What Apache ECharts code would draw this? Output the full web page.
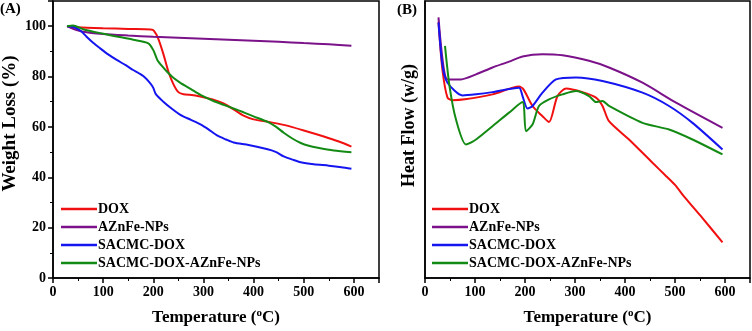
<!DOCTYPE html>
<html><head><meta charset="utf-8">
<script src="https://cdn.jsdelivr.net/npm/echarts@6/dist/echarts.min.js"></script>
<style>html,body{margin:0;padding:0;background:#fff}#c{width:752px;height:331px}</style>
</head><body><div id="c"></div>
<script>
// ---- data (TGA, panel A) ----
const seriesNames = ['DOX','AZnFe-NPs','SACMC-DOX','SACMC-DOX-AZnFe-NPs'];
const xTicks = [0,100,200,300,400,500,600];
const yTicksA = [0,20,40,60,80,100];

const tgaDoxT = [28,50,100,150,195,201,210,220,230,240,250,260,280,300,320,340,360,380,400,430,460,500,540,570,595];
const tgaDoxW = [100,99.6,99.2,98.9,98.7,98.2,95,89,82,77,73.8,73,72.6,71.8,70.8,69.3,67,64.5,63,62,60.8,58.6,56.2,54.2,52.2];
const tgaAznT = [28,40,60,100,150,200,250,300,350,400,450,500,550,595];
const tgaAznW = [100,99,97.8,96.9,96.3,95.8,95.4,95,94.6,94.2,93.8,93.3,92.8,92.2];
const tgaSacT = [28,40,55,67,80,94,110,127,145,160,180,194,200,205,220,237,254,275,294,310,328,345,360,390,428,445,460,478,494,520,550,575,595];
const tgaSacW = [100,99.8,98.2,95.8,93.4,91.2,88.8,86.6,84.5,82.6,80.2,77.3,75.5,73,70,67.2,64.8,62.8,61,59,56.5,55,53.8,52.8,51.1,50,48.3,47,46,45.2,44.6,44,43.4];
const tgaMixT = [28,40,60,100,130,160,190,200,208,218,227,240,254,275,294,320,340,360,380,400,428,445,460,478,494,510,528,560,595];
const tgaMixW = [100,100.3,98.8,97,95.8,94.6,93.2,90.5,86.6,84,82,79.5,77.5,75,72.7,70.3,68.8,67.3,65.8,64.2,62,60,57.7,55.3,53.6,52.5,51.7,50.6,49.9];

// ---- data (DSC, panel B, arbitrary units) ----
const dscDoxT = [27,35,45,55,80,135,188,197,215,235,248,265,282,315,342,355,368,408,455,480,500,520,555,595];
const dscDoxH = [92.3,75,65.1,64.2,64.5,66.3,69.1,68.1,62.1,58.4,56.3,65.7,68.4,67.1,65.1,62.1,56.6,50.0,41.6,37.2,33.6,29.0,21.6,12.9];
const dscAznT = [27,45,72,102,135,168,195,235,275,328,368,435,502,595];
const dscAznH = [94.1,71.7,71.7,73.5,76.0,78.1,80.0,80.8,80.4,78.4,76.0,70.5,63.3,54.2];
const dscSacT = [27,35,45,75,102,135,188,195,205,215,235,262,302,355,435,488,535,595];
const dscSacH = [92.3,76.6,70.5,65.9,66.3,67.1,68.7,65.7,61.2,62.1,66.9,71.7,72.4,71.1,66.9,62.1,56.0,46.4];
const dscMixT = [40,49,62,82,102,135,168,195,202,215,228,248,275,302,328,342,355,368,435,488,535,595];
const dscMixH = [83.8,69.3,57.2,48.2,50.0,54.8,59.7,63.5,53.0,55.4,62.1,64.5,66.3,67.5,65.7,63.5,63.9,62.1,56.0,53.6,50.0,44.6];

const colors = ['#f01010','#7b128a','#1515f0','#138a13'];
const pairs = (xs, ys) => xs.map((x, i) => [x, ys[i]]);

const F = 'Liberation Serif, Times New Roman, serif';
const lbl = {fontFamily: F, fontWeight: 'bold', fontSize: 14, color: '#000'};
const tempName = '{a|Temperature (}{s|o}{a|C)}';
const tempRich = {
  a: {fontFamily: F, fontWeight: 'bold', fontSize: 17, color: '#000'},
  s: {fontFamily: F, fontWeight: 'bold', fontSize: 11, color: '#000', verticalAlign: 'top', padding: [0,0,8,0]}
};

function xAxis(gi) {
  return {
    type: 'value', gridIndex: gi, min: 0, max: 650, interval: 100,
    axisLine: {show: true, lineStyle: {color: '#000', width: 1.5}},
    axisTick: {show: true, length: 5, lineStyle: {color: '#000', width: 1.5}},
    minorTick: {show: true, splitNumber: 2, length: 3, lineStyle: {color: '#000', width: 1}},
    splitLine: {show: false},
    axisLabel: Object.assign({margin: 7, showMaxLabel: false,
      formatter: v => xTicks.includes(v) ? String(v) : ''}, lbl),
    name: tempName, nameLocation: 'middle', nameGap: 30,
    nameTextStyle: {rich: tempRich}
  };
}

const option = {
  animation: false,
  backgroundColor: '#fff',
  color: colors,
  grid: [
    {left: 53, top: 1, width: 326, height: 278, show: true, borderColor: '#000', borderWidth: 1.5},
    {left: 425, top: 1, width: 325, height: 277, show: true, borderColor: '#000', borderWidth: 1.5}
  ],
  xAxis: [xAxis(0), xAxis(1)],
  yAxis: [
    {type: 'value', gridIndex: 0, min: 0, max: 110, interval: 20,
     axisLine: {show: true, lineStyle: {color: '#000', width: 1.5}},
     axisTick: {show: true, length: 5, lineStyle: {color: '#000', width: 1.5}},
     minorTick: {show: true, splitNumber: 2, length: 3, lineStyle: {color: '#000', width: 1}},
     splitLine: {show: false},
     axisLabel: Object.assign({margin: 7, showMaxLabel: false,
       formatter: v => yTicksA.includes(v) ? String(v) : ''}, lbl),
     name: 'Weight Loss (%)', nameLocation: 'middle', nameGap: 33,
     nameTextStyle: {fontFamily: F, fontWeight: 'bold', fontSize: 19, color: '#000', padding: [0,0,0,32]}},
    {type: 'value', gridIndex: 1, min: 0, max: 100,
     axisLine: {show: true, lineStyle: {color: '#000', width: 1.5}},
     axisTick: {show: false}, axisLabel: {show: false}, splitLine: {show: false},
     name: 'Heat Flow (w/g)', nameLocation: 'middle', nameGap: 7,
     nameTextStyle: {fontFamily: F, fontWeight: 'bold', fontSize: 18, color: '#000', padding: [0,0,0,28]}}
  ],
  legend: [
    {left: 56, top: 197, orient: 'vertical', icon: 'rect', itemWidth: 36, itemHeight: 2.5, itemGap: 4,
     textStyle: {fontFamily: F, fontWeight: 'bold', fontSize: 14, color: '#000', padding: [0,0,0,-4]},
     data: seriesNames},
    {left: 427, top: 197, orient: 'vertical', icon: 'rect', itemWidth: 36, itemHeight: 2.5, itemGap: 4,
     textStyle: {fontFamily: F, fontWeight: 'bold', fontSize: 14, color: '#000', padding: [0,0,0,-4]},
     data: seriesNames}
  ],
  graphic: [
    {type: 'text', left: 0, top: 2, style: {text: '(A)', font: 'bold 15px ' + F, fill: '#000'}},
    {type: 'text', left: 397, top: 3, style: {text: '(B)', font: 'bold 15px ' + F, fill: '#000'}}
  ],
  series: []
};

const tga = [pairs(tgaDoxT, tgaDoxW), pairs(tgaAznT, tgaAznW), pairs(tgaSacT, tgaSacW), pairs(tgaMixT, tgaMixW)];
const dsc = [pairs(dscDoxT, dscDoxH), pairs(dscAznT, dscAznH), pairs(dscSacT, dscSacH), pairs(dscMixT, dscMixH)];
[tga, dsc].forEach((set, gi) => {
  set.forEach((d, i) => {
    option.series.push({
      type: 'line', name: seriesNames[i], xAxisIndex: gi, yAxisIndex: gi,
      data: d, showSymbol: false, smooth: 0.25,
      lineStyle: {width: 2, color: colors[i]}, itemStyle: {color: colors[i]}
    });
  });
});
const chart = echarts.init(document.getElementById('c'), null, {renderer: 'canvas'});
chart.setOption(option);
</script></body></html>
